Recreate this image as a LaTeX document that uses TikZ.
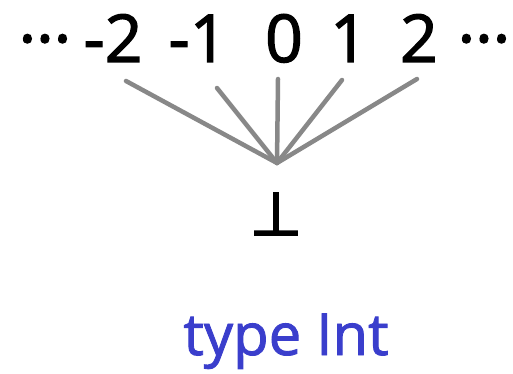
\documentclass[tikz,border=0pt]{standalone}
\usepackage{fontspec}
\setmainfont{Open Sans}
\newfontfamily\numfont{Open Sans}[FakeBold=2]
\newfontfamily\symfont{DejaVu Sans}[FakeBold=3]
\newfontfamily\typefont{Open Sans}[FakeBold=1.5]
\definecolor{spokegray}{RGB}{136,136,136}
\definecolor{typeblue}{RGB}{58,62,204}
\begin{document}
\begin{tikzpicture}[x=1pt,y=-1pt,
  num/.style={font=\numfont\fontsize{66}{66}\selectfont, inner sep=0pt, anchor=base},
  spoke/.style={draw=spokegray, line width=4.5pt, line cap=round},
]
\useasboundingbox (0,0) rectangle (513,374);
\node[num] (dl) at (45,62) {···};
\node[num] (m2) at (113,62) {-2};
\node[num] (m1) at (198,62) {-1};
\node[num] (z) at (284,62) {0};
\node[num] (p1) at (349,62) {1};
\node[num] (p2) at (419,62) {2};
\node[num] (dr) at (484,62) {···};
\coordinate (apex) at (277,163);
\node[font=\symfont\fontsize{60}{60}\selectfont, inner sep=0pt, anchor=base] (bot) at (276,235) {⊥};
\draw[spoke] ([shift={(13,19)}]m2.base) -- (apex);
\draw[spoke] ([shift={(19,26)}]m1.base) -- (apex);
\draw[spoke] ([shift={(-6,17)}]z.base) -- (apex);
\draw[spoke] ([shift={(-7,18)}]p1.base) -- (apex);
\draw[spoke] ([shift={(-2,17)}]p2.base) -- (apex);
\node[font=\typefont\fontsize{58}{58}\selectfont, text=typeblue, inner sep=0pt, anchor=base] (ty) at (286,355) {type Int};
\end{tikzpicture}
\end{document}
